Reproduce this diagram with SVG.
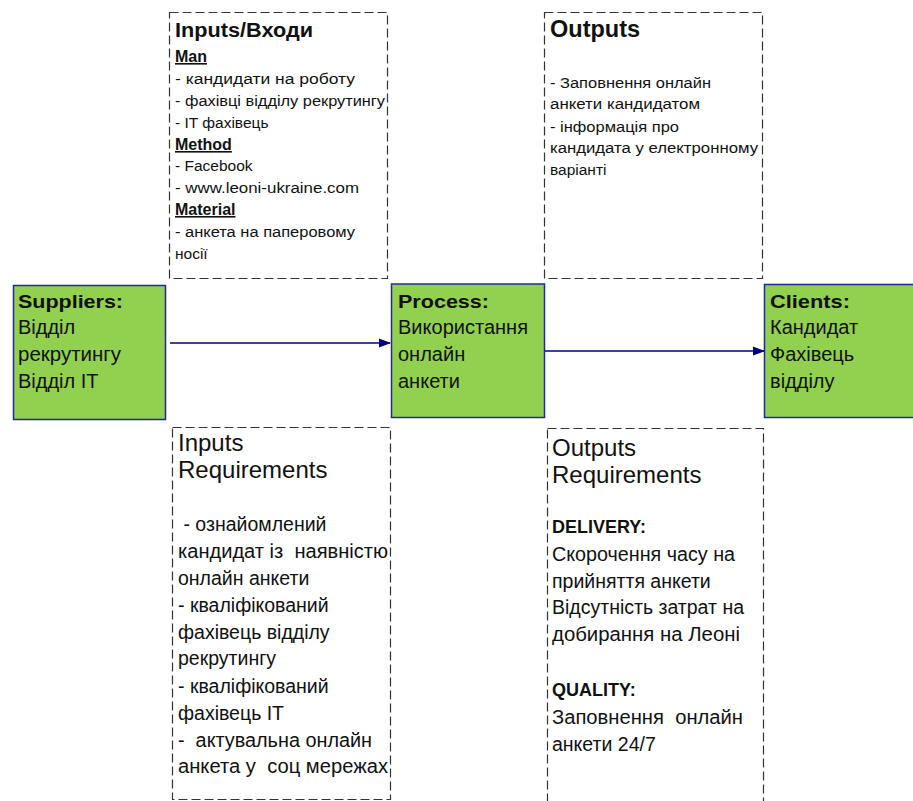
<svg xmlns="http://www.w3.org/2000/svg" width="913" height="801" viewBox="0 0 913 801">
<defs>
<style>
.dash{fill:none;stroke:#333;stroke-width:1.2;stroke-dasharray:9 4}
.green{fill:#92D050;stroke:#1F2A9A;stroke-width:1.5}
.t{font-family:"Liberation Sans",Arial,sans-serif;fill:#111}
.s{font-size:15.5px}
.m{font-size:19.5px}
.g{font-size:20px}
.b{font-weight:bold}
.u{text-decoration:underline}
.h{font-size:24px}
.conn{stroke:#000080;stroke-width:1.5;fill:none}
</style>
<marker id="arr" markerWidth="12" markerHeight="10" refX="11" refY="5" orient="auto" markerUnits="userSpaceOnUse">
<path d="M0,0.5 L12,5 L0,9.5 Z" fill="#000080"/>
</marker>
</defs>
<rect width="913" height="801" fill="#fff"/>

<g id="inputs">
<rect class="dash" x="169.5" y="12.5" width="218" height="266"/>
<text class="t b" x="175" y="37" font-size="19.5" textLength="138" lengthAdjust="spacingAndGlyphs">Inputs/Входи</text>
<text class="t b u" x="175" y="62" font-size="16">Man</text>
<text class="t s" x="175" y="84" textLength="180" lengthAdjust="spacingAndGlyphs">- кандидати на роботу</text>
<text class="t s" x="175" y="106" textLength="210" lengthAdjust="spacingAndGlyphs">- фахівці відділу рекрутингу</text>
<text class="t s" x="175" y="128">- IT фахівець</text>
<text class="t b u" x="175" y="150" font-size="16">Method</text>
<text class="t s" x="175" y="171">- Facebook</text>
<text class="t s" x="175" y="193" textLength="184" lengthAdjust="spacingAndGlyphs">- www.leoni-ukraine.com</text>
<text class="t b u" x="175" y="215" font-size="16">Material</text>
<text class="t s" x="175" y="237" textLength="180" lengthAdjust="spacingAndGlyphs">- анкета на паперовому</text>
<text class="t s" x="175" y="259">носії</text>
</g>

<g id="outputs">
<rect class="dash" x="544.5" y="12.5" width="218" height="266"/>
<text class="t b" x="550" y="37" font-size="23.5">Outputs</text>
<text class="t s" x="550" y="88" textLength="161" lengthAdjust="spacingAndGlyphs">- Заповнення онлайн</text>
<text class="t s" x="550" y="109" textLength="150" lengthAdjust="spacingAndGlyphs">анкети кандидатом</text>
<text class="t s" x="550" y="132" textLength="129" lengthAdjust="spacingAndGlyphs">- інформація про</text>
<text class="t s" x="550" y="153" textLength="208" lengthAdjust="spacingAndGlyphs">кандидата у електронному</text>
<text class="t s" x="550" y="175">варіанті</text>
</g>

<g id="suppliers">
<rect class="green" x="13.5" y="285.5" width="152" height="134"/>
<text class="t b" x="18" y="308" font-size="19" textLength="105" lengthAdjust="spacingAndGlyphs">Suppliers:</text>
<text class="t g" x="18" y="334">Відділ</text>
<text class="t g" x="18" y="361" textLength="103" lengthAdjust="spacingAndGlyphs">рекрутингу</text>
<text class="t g" x="18" y="388">Відділ IT</text>
</g>

<g id="process">
<rect class="green" x="391.5" y="284" width="153" height="133.5"/>
<text class="t b" x="398" y="308" font-size="19" textLength="91" lengthAdjust="spacingAndGlyphs">Process:</text>
<text class="t g" x="398" y="334" textLength="130" lengthAdjust="spacingAndGlyphs">Використання</text>
<text class="t g" x="398" y="361">онлайн</text>
<text class="t g" x="398" y="388">анкети</text>
</g>

<g id="clients">
<rect class="green" x="764.5" y="284.5" width="160" height="133"/>
<text class="t b" x="770" y="308" font-size="19" textLength="80" lengthAdjust="spacingAndGlyphs">Clients:</text>
<text class="t g" x="770" y="334">Кандидат</text>
<text class="t g" x="770" y="361">Фахівець</text>
<text class="t g" x="770" y="388">відділу</text>
</g>

<g id="inputs-req">
<rect class="dash" x="172.5" y="427.5" width="218" height="372"/>
<text class="t h" x="178" y="451">Inputs</text>
<text class="t h" x="178" y="478">Requirements</text>
<text class="t m" x="178" y="531" xml:space="preserve"> - ознайомлений</text>
<text class="t m" x="178" y="558" xml:space="preserve" textLength="210" lengthAdjust="spacingAndGlyphs">кандидат із  наявністю</text>
<text class="t m" x="178" y="585">онлайн анкети</text>
<text class="t m" x="178" y="612">- кваліфікований</text>
<text class="t m" x="178" y="639">фахівець відділу</text>
<text class="t m" x="178" y="665">рекрутингу</text>
<text class="t m" x="178" y="693">- кваліфікований</text>
<text class="t m" x="178" y="720">фахівець IT</text>
<text class="t m" x="178" y="747" xml:space="preserve" textLength="194" lengthAdjust="spacingAndGlyphs">-  актувальна онлайн</text>
<text class="t m" x="178" y="773" xml:space="preserve" textLength="210" lengthAdjust="spacingAndGlyphs">анкета у  соц мережах</text>
</g>

<g id="outputs-req">
<rect class="dash" x="547.5" y="428.5" width="216" height="400"/>
<text class="t h" x="552" y="456">Outputs</text>
<text class="t h" x="552" y="483">Requirements</text>
<text class="t b" x="552" y="533" font-size="18">DELIVERY:</text>
<text class="t m" x="552" y="561" textLength="183" lengthAdjust="spacingAndGlyphs">Скорочення часу на</text>
<text class="t m" x="552" y="588">прийняття анкети</text>
<text class="t m" x="552" y="614" textLength="192" lengthAdjust="spacingAndGlyphs">Відсутність затрат на</text>
<text class="t m" x="552" y="641" textLength="188" lengthAdjust="spacingAndGlyphs">добирання на Леоні</text>
<text class="t b" x="552" y="696" font-size="18">QUALITY:</text>
<text class="t m" x="552" y="724" xml:space="preserve" textLength="191" lengthAdjust="spacingAndGlyphs">Заповнення  онлайн</text>
<text class="t m" x="552" y="751">анкети 24/7</text>
</g>

<g id="connectors">
<line class="conn" x1="170" y1="343" x2="390" y2="343" marker-end="url(#arr)"/>
<line class="conn" x1="545" y1="351" x2="764" y2="351" marker-end="url(#arr)"/>
</g>
</svg>
